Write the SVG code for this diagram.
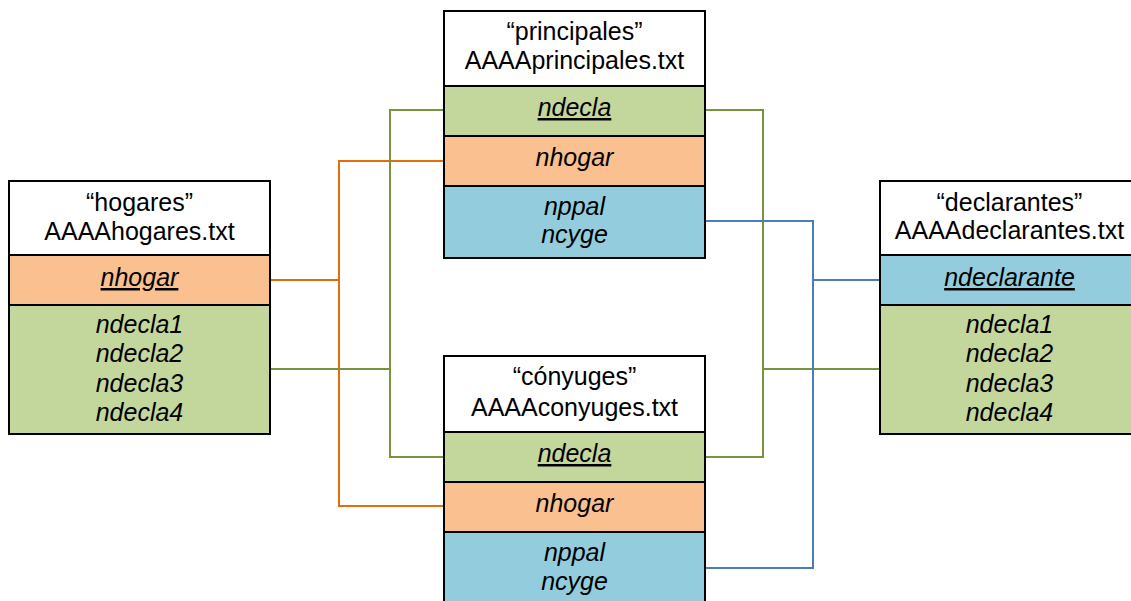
<svg xmlns="http://www.w3.org/2000/svg" width="1131" height="601" viewBox="0 0 1131 601">
<style>
.box{stroke:#000;stroke-width:2}
.hd{fill:#fff}
.or{fill:#FAC090}
.gr{fill:#C3D69B}
.bl{fill:#93CDDD}
text{font-family:"Liberation Sans",Arial,sans-serif;font-size:25px;fill:#000;text-anchor:middle}
.it{font-style:italic}
.u{text-decoration:underline}
.cO{stroke:#E46C0A;stroke-width:2;fill:none}
.cG{stroke:#77933C;stroke-width:2;fill:none}
.cB{stroke:#4A7EBB;stroke-width:2;fill:none}
</style>
<rect width="1131" height="601" fill="#fff"/>
<g id="connectors">
<path class="cO" d="M270,280 H339 M444,161 H339 V506 H444"/>
<path class="cG" d="M270,369 H390 M444,110 H390 V457 H444"/>
<path class="cG" d="M880,369 H763 M705,110 H763 V457 H705"/>
<path class="cB" d="M705,221 H813 V568 H705 M813,280 H880"/>
</g>
<g id="hogares">
<rect class="box hd" x="9" y="181" width="261" height="74"/>
<rect class="box or" x="9" y="255" width="261" height="50"/>
<rect class="box gr" x="9" y="305" width="261" height="129"/>
<text x="139.5" y="211">“hogares”</text>
<text x="139.5" y="240">AAAAhogares.txt</text>
<text class="it u" x="139.5" y="286">nhogar</text>
<text class="it" x="139.5" y="333">ndecla1</text>
<text class="it" x="139.5" y="362">ndecla2</text>
<text class="it" x="139.5" y="392">ndecla3</text>
<text class="it" x="139.5" y="421">ndecla4</text>
</g>
<g id="principales">
<rect class="box hd" x="444" y="11" width="261" height="75"/>
<rect class="box gr" x="444" y="86" width="261" height="50"/>
<rect class="box or" x="444" y="136" width="261" height="50"/>
<rect class="box bl" x="444" y="186" width="261" height="72"/>
<text x="574.5" y="40">“principales”</text>
<text x="574.5" y="69">AAAAprincipales.txt</text>
<text class="it u" x="574.5" y="116">ndecla</text>
<text class="it" x="574.5" y="166">nhogar</text>
<text class="it" x="574.5" y="215">nppal</text>
<text class="it" x="574.5" y="243">ncyge</text>
</g>
<g id="conyuges">
<rect class="box hd" x="444" y="356" width="261" height="76"/>
<rect class="box gr" x="444" y="432" width="261" height="50"/>
<rect class="box or" x="444" y="482" width="261" height="50"/>
<rect class="box bl" x="444" y="532" width="261" height="74"/>
<text x="574.5" y="385">“cónyuges”</text>
<text x="574.5" y="416">AAAAconyuges.txt</text>
<text class="it u" x="574.5" y="462">ndecla</text>
<text class="it" x="574.5" y="512">nhogar</text>
<text class="it" x="574.5" y="561">nppal</text>
<text class="it" x="574.5" y="590">ncyge</text>
</g>
<g id="declarantes">
<rect class="box hd" x="880" y="181" width="261" height="74"/>
<rect class="box bl" x="880" y="255" width="261" height="50"/>
<rect class="box gr" x="880" y="305" width="261" height="129"/>
<text x="1009.5" y="211">“declarantes”</text>
<text x="1009.5" y="239">AAAAdeclarantes.txt</text>
<text class="it u" x="1009.5" y="286">ndeclarante</text>
<text class="it" x="1009.5" y="333">ndecla1</text>
<text class="it" x="1009.5" y="362">ndecla2</text>
<text class="it" x="1009.5" y="392">ndecla3</text>
<text class="it" x="1009.5" y="421">ndecla4</text>
</g>
</svg>
